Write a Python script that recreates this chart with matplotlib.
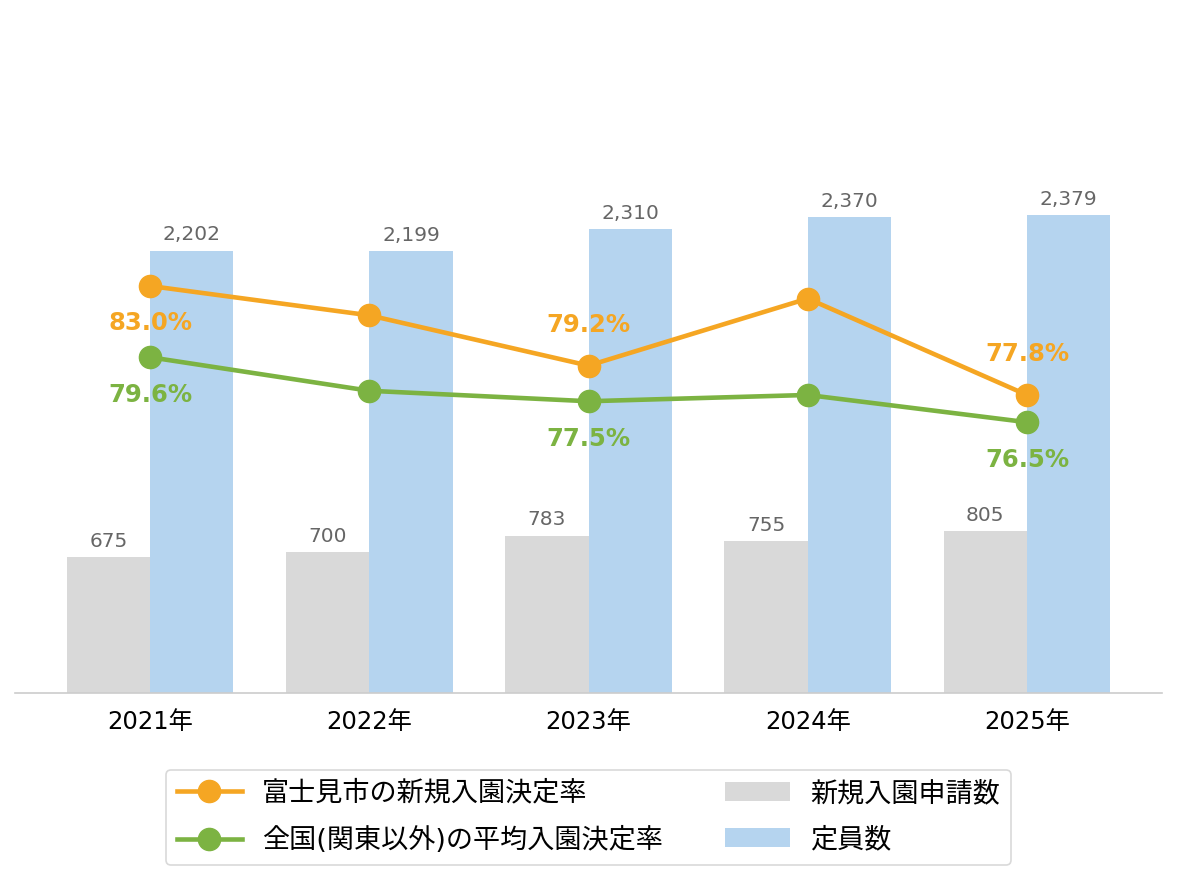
import numpy as np
import matplotlib.pyplot as plt

plt.rcParams['font.family'] = ['DejaVu Sans', 'Noto Sans CJK JP']

# Data
years = ['2021年', '2022年', '2023年', '2024年', '2025年']
applications = [675, 700, 783, 755, 805]        # 新規入園申請数
capacity = [2202, 2199, 2310, 2370, 2379]       # 定員数
fujimi_rate = [83.0, 81.6, 79.2, 82.4, 77.8]    # 富士見市の新規入園決定率
national_rate = [79.6, 78.0, 77.5, 77.8, 76.5]  # 全国(関東以外)の平均入園決定率
labeled = [0, 2, 4]  # points that carry a % label

gray = '#D9D9D9'
blue = '#B5D4EF'
orange = '#F5A623'
green = '#7CB342'

fig = plt.figure(figsize=(11.77, 8.81), dpi=100)
ax = fig.add_axes([15 / 1177, 188 / 881, 1147 / 1177, 673 / 881])
x = np.arange(len(years))
w = 0.38

b1 = ax.bar(x - w / 2, applications, w, color=gray, label='新規入園申請数')
b2 = ax.bar(x + w / 2, capacity, w, color=blue, label='定員数')
for bars in (b1, b2):
    for rect in bars:
        ax.annotate(f'{int(rect.get_height()):,}',
                    (rect.get_x() + rect.get_width() / 2, rect.get_height()),
                    xytext=(0, 11.5), textcoords='offset points',
                    ha='center', va='center', fontsize=14.5, color='#666666')

ax.set_xlim(-0.616, 4.616)
ax.set_ylim(0, 3352)
ax.set_xticks(x)
ax.set_xticklabels(years, fontsize=17.5)
ax.tick_params(axis='x', length=0, pad=12)
ax.set_yticks([])
for s in ['top', 'left', 'right']:
    ax.spines[s].set_visible(False)
ax.spines['bottom'].set_color('#CCCCCC')
ax.spines['bottom'].set_linewidth(1.2)

ax2 = ax.twinx()
ax2.set_ylim(63.58, 95.69)
ax2.axis('off')
l1, = ax2.plot(x, fujimi_rate, color=orange, lw=3.3, marker='o', ms=16,
               label='富士見市の新規入園決定率')
l2, = ax2.plot(x, national_rate, color=green, lw=3.3, marker='o', ms=16,
               label='全国(関東以外)の平均入園決定率')

for i in labeled:
    # orange label goes above when it sits close to the green line
    off_o = -26.6 if fujimi_rate[i] - national_rate[i] > 3 else 29.5
    ax2.annotate(f'{fujimi_rate[i]:.1f}%', (x[i], fujimi_rate[i]),
                 xytext=(0, off_o), textcoords='offset points',
                 ha='center', va='center', fontsize=17.5, fontweight='bold', color=orange)
    ax2.annotate(f'{national_rate[i]:.1f}%', (x[i], national_rate[i]),
                 xytext=(0, -27), textcoords='offset points',
                 ha='center', va='center', fontsize=17.5, fontweight='bold', color=green)

leg = fig.legend([l1, l2, b1, b2],
                 ['富士見市の新規入園決定率', '全国(関東以外)の平均入園決定率', '新規入園申請数', '定員数'],
                 ncol=2, loc='center', bbox_to_anchor=(0.5, 1 - 817.5 / 881),
                 fontsize=19.5, handlelength=2.4, handletextpad=0.75, columnspacing=2.3,
                 labelspacing=0.75, frameon=True, edgecolor='#D0D0D0', fancybox=True)
leg.get_frame().set_linewidth(1.2)

fig.savefig('out.png', dpi=100)
